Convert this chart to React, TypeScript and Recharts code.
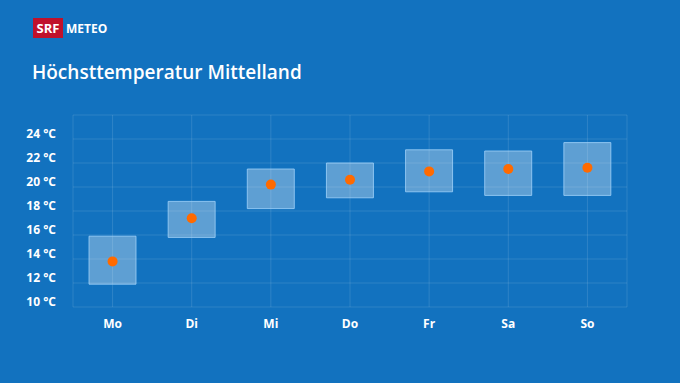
import React from 'react';
import { Bar, CartesianGrid, ComposedChart, Line, XAxis, YAxis } from 'recharts';

const days = ['Mo', 'Di', 'Mi', 'Do', 'Fr', 'Sa', 'So'];
const lowTemps = [11.9, 15.8, 18.2, 19.1, 19.6, 19.3, 19.3];
const highTemps = [15.9, 18.8, 21.5, 22.0, 23.1, 23.0, 23.7];
const expected = [13.8, 17.4, 20.2, 20.6, 21.3, 21.5, 21.6];
const yTicks = [10, 12, 14, 16, 18, 20, 22, 24, 26];

const data = days.map((day, i) => ({
    day,
    range: [lowTemps[i], highTemps[i]],
    value: expected[i],
}));

const FONT = '"Open Sans", "DejaVu Sans", sans-serif';

function YTick(props: any) {
    const { x, y, payload } = props;
    if (payload.value === 26) return null;
    return (
        <text
            x={x}
            y={y - 4}
            textAnchor='end'
            dominantBaseline='middle'
            fill='#ffffff'
            fontFamily={FONT}
            fontWeight={700}
            fontSize={12}
        >
            {payload.value} °C
        </text>
    );
}

function XTick(props: any) {
    const { x, y, payload } = props;
    return (
        <text
            x={x}
            y={y + 4}
            textAnchor='middle'
            dominantBaseline='middle'
            fill='#ffffff'
            fontFamily={FONT}
            fontWeight={700}
            fontSize={12}
        >
            {payload.value}
        </text>
    );
}

export default function App() {
    return (
        <div
            style={{
                position: 'fixed',
                top: 0,
                left: 0,
                width: 680,
                height: 383,
                background: '#1272bf',
                fontFamily: FONT,
            }}
        >
            <div style={{ position: 'absolute', left: 33, top: 18, display: 'flex', alignItems: 'center' }}>
                <div
                    style={{
                        background: '#c0112b',
                        color: '#fff',
                        fontWeight: 700,
                        fontSize: 13,
                        height: 20,
                        lineHeight: '20px',
                        padding: '0 3px',
                        width: 24,
                        textAlign: 'center',
                    }}
                >
                    SRF
                </div>
                <div style={{ color: '#fff', fontWeight: 700, fontSize: 12, marginLeft: 3 }}>METEO</div>
            </div>
            <div
                style={{
                    position: 'absolute',
                    left: 32,
                    top: 59,
                    color: '#fff',
                    fontSize: 19,
                    fontWeight: 600,
                }}
            >
                Höchsttemperatur Mittelland
            </div>
            <div style={{ position: 'absolute', left: 0, top: 0 }}>
                <ComposedChart
                    width={680}
                    height={383}
                    data={data}
                    margin={{ top: 115, right: 53, bottom: 46, left: 0 }}
                    barCategoryGap={0}
                >
                    <CartesianGrid stroke='rgba(255,255,255,0.12)' strokeWidth={1} />
                    <XAxis
                        dataKey='day'
                        axisLine={false}
                        tickLine={false}
                        tick={<XTick />}
                        tickMargin={8}
                        interval={0}
                    />
                    <YAxis
                        domain={[10, 26]}
                        ticks={yTicks}
                        width={73}
                        axisLine={false}
                        tickLine={false}
                        tickMargin={11}
                        tick={<YTick />}
                        interval={0}
                    />
                    <Bar
                        dataKey='range'
                        barSize={47}
                        fill='rgba(255,255,255,0.32)'
                        stroke='rgba(160,210,250,0.8)'
                        strokeWidth={1}
                        isAnimationActive={false}
                    />
                    <Line
                        dataKey='value'
                        stroke='none'
                        dot={{ r: 5, fill: '#ff6a00', stroke: 'none' }}
                        activeDot={false}
                        isAnimationActive={false}
                    />
                </ComposedChart>
            </div>
        </div>
    );
}
